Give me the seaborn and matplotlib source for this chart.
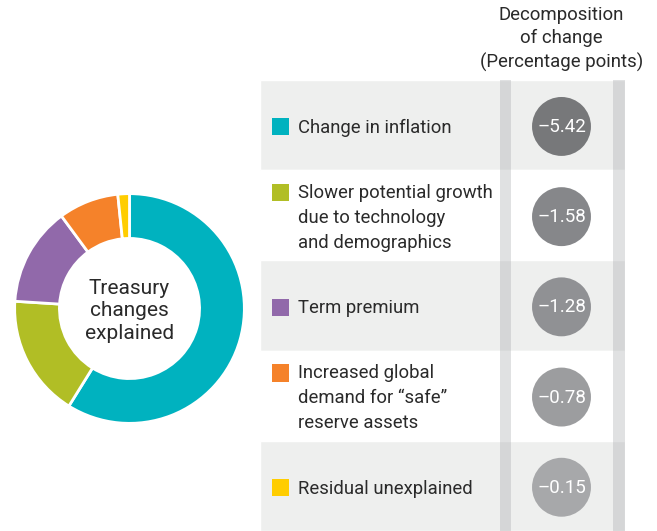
import matplotlib
matplotlib.use('Agg')
import numpy as np
import pandas as pd
import seaborn as sns
import matplotlib.pyplot as plt

factors = ["Change in inflation",
           "Slower potential growth\ndue to technology\nand demographics",
           "Term premium",
           "Increased global\ndemand for \u201csafe\u201d\nreserve assets",
           "Residual unexplained"]
changes = [-5.42, -1.58, -1.28, -0.78, -0.15]
slice_colors = ['#00b2bf', '#b1be25', '#9169aa', '#f5822a', '#ffcd00']
circle_colors = ['#77787a', '#86878a', '#909194', '#9c9d9f', '#a7a8aa']
header = "Decomposition\nof change\n(Percentage points)"
center_label = "Treasury\nchanges\nexplained"

df = pd.DataFrame({'factor': factors, 'change': changes, 'row': range(len(factors))})
df['lines'] = df['factor'].str.count('\n') + 1

sns.set_theme(style='white')
plt.rcParams['font.family'] = ['Roboto', 'DejaVu Sans']

W, H = 657, 531
fig = plt.figure(figsize=(W / 100, H / 100), dpi=100)

# donut
ax_d = fig.add_axes([13.5 / W, (H - 424.5) / H, 232 / W, 232 / H])
ax_d.pie(np.abs(df['change']), colors=slice_colors, startangle=90, counterclock=False,
         wedgeprops=dict(width=0.39, edgecolor='white', linewidth=2))
ax_d.text(0, -0.02, center_label, ha='center', va='center', fontsize=15,
          linespacing=1.24, color='#2a2a2a')
ax_d.set_xlim(-1.01, 1.01)
ax_d.set_ylim(-1.01, 1.01)

# table
ax_t = fig.add_axes([260 / W, 0, 397 / W, 451 / H])
bg = ['#eeefee' if i % 2 == 0 else 'white' for i in df['row']]
ax_t.barh(df['row'], 365, left=260, height=1, color=bg)
for x0, x1 in [(500, 511), (613, 625)]:
    ax_t.axvspan(x0, x1, color='#a8aaad', alpha=0.35, lw=0)

line_h = 24.5 / 90.2
sq_y = df['row'] + 0.02 - (df['lines'] - 1) * line_h / 2
ax_t.scatter(np.full(len(df), 280.5), sq_y, marker='s', s=150, c=slice_colors, lw=0)
sns.scatterplot(data=df, x=np.full(len(df), 561.5), y=df['row'] + 0.015, hue='factor',
                palette=circle_colors, s=1800, edgecolor='none', legend=False, ax=ax_t)

for _, r in df.iterrows():
    ax_t.text(298, r['row'] + 0.03, r['factor'], va='center', ha='left', fontsize=13.3,
              linespacing=1.5, color='#2a2a2a')
    ax_t.text(561.5, r['row'] + 0.02, f"\u2013{abs(r['change']):.2f}", va='center',
              ha='center', fontsize=13.5, color='white')

ax_t.set_xlim(260, 657)
ax_t.set_ylim(len(df) - 0.5, -0.5)
ax_t.axis('off')

fig.text(561.5 / W, 1 - 39 / H, header, ha='center', va='center', fontsize=13.4,
         linespacing=1.38, color='#2a2a2a')

fig.savefig('out.png', dpi=100)
